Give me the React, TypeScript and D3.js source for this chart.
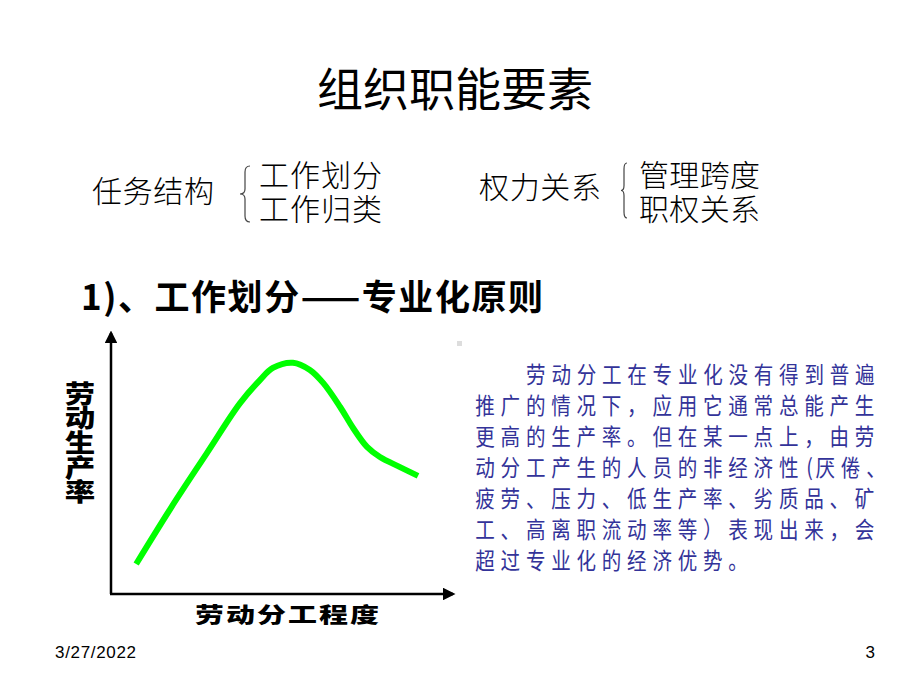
import React from "react";
import * as d3 from "d3";

const title = "组织职能要素";
const taskLabel = "任务结构";
const taskItems = ["工作划分", "工作归类"];
const powerLabel = "权力关系";
const powerItems = ["管理跨度", "职权关系"];
const subtitle = "1)、工作划分——专业化原则";
const yAxisLabel = "劳动生产率";
const xAxisLabel = "劳动分工程度";

// curve: degree of division of labor (x) vs. labor productivity (y)
const curveX = [0.74, 1.76, 2.82, 3.79, 4.38, 4.76, 5.35, 5.85, 6.24, 6.74, 7.12, 7.53, 7.91, 8.5, 9.03];
const curveY = [1.16, 3.32, 5.44, 7.36, 8.26, 8.73, 8.93, 8.65, 8.15, 7.22, 6.41, 5.68, 5.29, 4.9, 4.56];

const paragraph = [
  "劳动分工在专业化没有得到普遍",
  "推广的情况下，应用它通常总能产生",
  "更高的生产率。但在某一点上，由劳",
  "动分工产生的人员的非经济性(厌倦、",
  "疲劳、压力、低生产率、劣质品、矿",
  "工、高离职流动率等）表现出来，会",
  "超过专业化的经济优势。",
];

const footerDate = "3/27/2022";
const pageNumber = "3";

const CJK = "'Noto Sans CJK SC', 'Noto Sans', sans-serif";

export default function App() {
  const W = 920;
  const H = 693;
  const x = d3.scaleLinear().domain([0, 10]).range([111, 451]);
  const y = d3.scaleLinear().domain([0, 10]).range([594, 335]);
  const pts = curveX.map((v, i) => [x(v), y(curveY[i])] as [number, number]);
  const line = d3.line().curve(d3.curveCatmullRom.alpha(0.5));
  const pathD = line(pts) || "";

  const brace = (bx: number, y0: number, y1: number, w: number) => {
    const m = (y0 + y1) / 2;
    return `M${bx + w},${y0} Q${bx},${y0} ${bx},${y0 + 6} L${bx},${m - 5} Q${bx},${m} ${bx - w},${m} Q${bx},${m} ${bx},${m + 5} L${bx},${y1 - 6} Q${bx},${y1} ${bx + w},${y1}`;
  };

  const paraX0 = 475;
  const paraX1 = 880;
  const step = 25.3;
  const lineYs = [373, 404, 435, 466, 497, 528, 559];

  return (
    <svg width={W} height={H} style={{ position: "absolute", left: 0, top: 0, background: "#fff" }}>
      <rect x={0} y={0} width={W} height={H} fill="#fff" />
      <text x={455} y={86} textAnchor="middle" dominantBaseline="central" fontFamily={CJK} fontSize={46} fill="#000">
        {title}
      </text>

      <text x={92} y={189} dominantBaseline="central" fontFamily={CJK} fontSize={30} fontWeight={300} fill="#000" textLength={122}>
        {taskLabel}
      </text>
      <path d={brace(245, 166, 222, 5)} fill="none" stroke="#444" strokeWidth={1.2} />
      <text dominantBaseline="central" fontFamily={CJK} fontSize={30} fontWeight={300} fill="#000">
        {taskItems.map((t, i) => (
          <tspan key={t} x={259} y={173 + i * 34} textLength={123}>
            {t}
          </tspan>
        ))}
      </text>

      <text x={479} y={185} dominantBaseline="central" fontFamily={CJK} fontSize={30} fontWeight={300} fill="#000" textLength={122}>
        {powerLabel}
      </text>
      <path d={brace(624, 163, 218, 3)} fill="none" stroke="#444" strokeWidth={1.2} />
      <text dominantBaseline="central" fontFamily={CJK} fontSize={30} fontWeight={300} fill="#000">
        {powerItems.map((t, i) => (
          <tspan key={t} x={639} y={173 + i * 34} textLength={121}>
            {t}
          </tspan>
        ))}
      </text>

      <text x={81} y={294} dominantBaseline="central" fontFamily={CJK} fontSize={35} fontWeight={700} fill="#000" textLength={462}>
        {subtitle}
      </text>

      {/* axes */}
      <defs>
        <marker id="arr" viewBox="0 0 10 10" refX={8} refY={5} markerWidth={5} markerHeight={5} orient="auto">
          <path d="M0,0 L10,5 L0,10 z" fill="#000" />
        </marker>
      </defs>
      <line x1={x(0)} y1={y(0)} x2={x(0)} y2={y(10) - 2} stroke="#000" strokeWidth={2.5} markerEnd="url(#arr)" />
      <line x1={x(0) - 1} y1={y(0)} x2={x(10) + 2} y2={y(0)} stroke="#000" strokeWidth={2.5} markerEnd="url(#arr)" />

      <path d={pathD} fill="none" stroke="#00ff00" strokeWidth={6} strokeLinecap="butt" strokeLinejoin="round" />

      <g transform="translate(80,381) scale(1.05,0.85)">
        <text
          x={0}
          y={0}
          style={{ writingMode: "vertical-rl" as any }}
          textAnchor="start"
          fontFamily={CJK}
          fontSize={29}
          fontWeight={900}
          fill="#000"
        >
          {yAxisLabel}
        </text>
      </g>
      <text
        x={0}
        y={0}
        transform={`translate(287,613) scale(1,0.72)`}
        textAnchor="middle"
        dominantBaseline="central"
        fontFamily={CJK}
        fontSize={29}
        fontWeight={900}
        fill="#000"
        textLength={184}
      >
        {xAxisLabel}
      </text>

      <rect x={457} y={341} width={5} height={5} fill="#ddd" />

      {paragraph.map((ln, i) => {
        const chars = Array.from(ln);
        const startX = i === 0 ? paraX1 - chars.length * step : paraX0;
        let cx = startX;
        return (
          <g key={i}>
            {chars.map((c, j) => {
              const half = c === "(";
              const w = half ? step * 0.45 : step;
              const el = (
                <text
                  key={j}
                  x={0}
                  y={0}
                  transform={`translate(${cx + w / 2 - (half ? 0 : 2.6)},${lineYs[i]}) scale(0.85,1)`}
                  textAnchor="middle"
                  dominantBaseline="central"
                  fontFamily={CJK}
                  fontSize={23}
                  fill="#333399"
                >
                  {c}
                </text>
              );
              cx += w;
              return el;
            })}
          </g>
        );
      })}

      <text x={55} y={652} dominantBaseline="central" fontFamily="'Liberation Sans', Arial, sans-serif" fontSize={17} fill="#000" textLength={81}>
        {footerDate}
      </text>
      <text x={875} y={652} textAnchor="end" dominantBaseline="central" fontFamily="'Liberation Sans', Arial, sans-serif" fontSize={17} fill="#000">
        {pageNumber}
      </text>
    </svg>
  );
}
